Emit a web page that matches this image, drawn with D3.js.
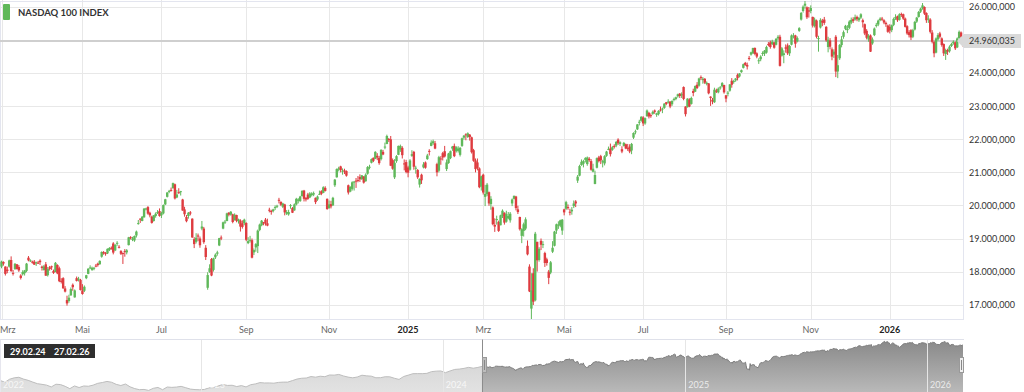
<!DOCTYPE html>
<html><head><meta charset="utf-8">
<script src="https://cdn.jsdelivr.net/npm/d3@7"></script>
<style>html,body{margin:0;padding:0;background:#fff;overflow:hidden}svg{display:block;font-family:Lato,"Open Sans",sans-serif}</style>
</head><body><svg id="chart" width="1024" height="392"></svg>
<script>
const seriesName = "NASDAQ 100 INDEX";
const monthNames = ["Jan","Feb","Mrz","Apr","Mai","Jun","Jul","Aug","Sep","Okt","Nov","Dez"];
const months = ["2024-03","2024-04","2024-05","2024-06","2024-07","2024-08","2024-09","2024-10","2024-11","2024-12",
"2025-01","2025-02","2025-03","2025-04","2025-05","2025-06","2025-07","2025-08","2025-09","2025-10","2025-11","2025-12","2026-01","2026-02"];
const holidays = ["2024-03-29","2024-05-27","2024-06-19","2024-07-04","2024-09-02","2024-11-28","2024-12-25","2025-01-01","2025-01-09","2025-01-20","2025-02-17","2025-04-18","2025-05-26","2025-06-19","2025-07-04","2025-09-01","2025-11-27","2025-12-25","2026-01-01","2026-01-19","2026-02-16"];
const rangeLabels = ["29.02.24","27.02.26"];
const lastPrice = 24960.035;
const yTicks = [17000,18000,19000,20000,21000,22000,23000,24000,25000,26000];

const opens = [
[18150,18290,18150,18060,18150,18350,17960,18080,18220,18140,17880,17920,17950,18020,18420,18320,18300,18300,18250,18270],
[18330,18150,18050,18220,17890,18130,18160,18020,17990,18200,18100,17720,17800,17490,17140,17110,17280,17600,17220,17800,17780,17750],
[17430,17420,17800,17930,18120,18050,18110,18180,18240,18220,18450,18590,18560,18550,18650,18720,18850,18640,18850,18750,18620,18560],
[18620,18580,18800,19040,18960,18940,19090,19450,19600,19530,19640,19900,19950,19780,19660,19530,19680,19800,19830],
[19700,19760,20030,20260,20420,20470,20520,20640,20240,20400,20430,20180,19880,19650,19680,19790,19600,18980,18900,19090,19000,19300],
[19300,18720,17510,17990,18380,18050,18430,18540,18790,19030,19300,19490,19530,19780,19720,19730,19560,19710,19520,19540,19460,19460],
[19470,18860,18940,18950,18580,18730,18770,19260,19400,19490,19570,19460,19870,19830,19830,19950,19960,20170,20110,19960],
[20030,19750,19730,19980,19920,19850,20030,20140,20130,20280,20450,20230,20330,20240,20310,20330,20230,20180,20340,20430,20380,20530,20200],
[19920,20040,20000,20610,20850,21090,21180,21050,21060,21040,20610,20420,20500,20710,20750,20770,20860,20800,20880,20730],
[20960,21150,21290,21440,21410,21500,21440,21400,21620,21760,21860,22010,22000,21370,20850,21340,21530,21690,21740,21270,21310],
[21150,21080,21500,21620,21140,21070,20630,20930,21150,21300,21400,21650,21800,21880,21880,21250,21050,21420,21580,21640],
[21100,21280,21430,21720,21800,21640,21650,21530,21800,22050,22150,22070,22140,22060,21670,21360,21300,21120,20570],
[20930,20260,20340,20400,20040,19940,19410,19580,19500,19400,19680,19780,19510,19610,19550,20060,20200,20270,19880,19650,19080],
[19230,19300,18780,18150,16880,17950,17130,18900,18350,18930,18800,18560,18370,18000,17970,18600,18780,19240,19420,19390,19240],
[19880,19900,19950,19810,19820,19980,20120,20750,20900,21220,21260,21380,21250,21410,21340,21020,20650,21140,21450,21490,21300],
[21270,21500,21690,21720,21680,21800,21810,21990,21860,21700,21800,21850,21740,21780,21660,22050,22230,22300,22530,22560],
[22660,22480,22700,22800,22730,22770,22870,22740,22760,22900,22920,22950,23120,23130,23140,23060,23220,23220,23300,23380,23340,23580],
[22990,22970,23200,23070,23460,23440,23650,23620,23880,23790,23830,23670,23690,23290,23190,23120,23470,23420,23540,23600,23640],
[23330,23410,23470,23770,23730,23780,23950,23900,24030,24160,24310,24250,24460,24560,24600,24760,24600,24360,24420,24590,24590],
[24620,24880,24930,24880,24930,24860,25050,25100,24530,24550,24780,24840,24600,24860,25130,25140,24960,25280,25620,25880,26040,25990,25900],
[25880,25700,25420,25590,25050,25380,25580,25620,25400,24790,24990,24720,24560,25100,24050,24450,24850,25100,25340],
[25300,25370,25530,25630,25620,25700,25600,25680,25600,25480,25280,25020,25140,24900,25150,25430,25470,25600,25650,25600,25520,25440],
[25400,25300,25460,25650,25720,25610,25790,25780,25650,25420,25240,25300,25100,25320,25560,25700,25860,25960,26000,25820],
[25620,25620,25230,24940,24620,25020,25200,25050,24880,24580,24700,24660,24820,24900,24930,24780,25060,25230,25000]
];
const highs = [
[18330,18310,18160,18150,18360,18460,18050,18260,18230,18200,17920,18040,18050,18260,18470,18370,18330,18350,18300,18320],
[18370,18180,18200,18290,18140,18170,18180,18060,18290,18220,18150,17800,17830,17560,17270,17300,17520,17640,17460,17850,17840,17780],
[17620,17580,17900,18100,18190,18150,18140,18230,18270,18340,18610,18620,18590,18700,18740,18760,18890,18830,18920,18800,18650,18580],
[18680,18680,19050,19070,19050,19090,19240,19560,19610,19680,19920,19930,19980,19810,19690,19710,19790,19860,19910],
[19810,20030,20200,20400,20470,20540,20690,20660,20470,20520,20440,20200,19960,19710,19800,19830,19610,19040,19160,19150,19060,19530],
[19350,18800,17980,18220,18410,18420,18550,18630,19020,19090,19510,19560,19780,19800,19830,19750,19760,19720,19600,19580,19550,19600],
[19490,19040,19080,19000,18700,18860,19270,19450,19560,19500,19620,19600,19930,19870,19900,20000,20020,20230,20120,20080],
[20050,19860,19870,20040,19950,20060,20230,20220,20290,20460,20470,20250,20380,20400,20400,20420,20240,20300,20450,20460,20580,20580,20210],
[20150,20140,20260,20800,21120,21170,21200,21120,21110,21060,20630,20580,20730,20740,20830,20890,20940,20920,20880,20970],
[21190,21230,21420,21450,21640,21580,21500,21700,21680,21900,22140,22040,22100,21420,21400,21520,21810,21840,21790,21390,21380],
[21200,21400,21670,21650,21200,21100,20820,20960,21310,21330,21560,21700,21970,21990,21950,21290,21500,21490,21620,21800],
[21390,21590,21660,21800,21870,21790,21790,21770,22050,22130,22180,22210,22160,22080,21710,21420,21420,21150,20900],
[20960,20620,20680,20420,20280,19970,19610,19690,19540,19720,19880,19790,19840,19800,19800,20210,20300,20290,19990,19660,19310],
[19480,19640,18940,18220,17950,18100,19200,18900,18740,19000,18920,18600,18420,18050,18320,18920,19230,19450,19520,19570,19590],
[19900,20140,20030,19900,19950,20150,20160,20920,21230,21390,21380,21460,21480,21460,21400,21260,21050,21450,21500,21530,21380],
[21520,21650,21780,21870,21800,21850,21950,22030,21940,21790,21920,21870,21860,21850,21890,22210,22290,22460,22590,22700],
[22700,22660,22900,22830,22780,22870,22900,22800,22880,22990,22960,23090,23130,23210,23150,23180,23260,23290,23380,23400,23420,23600],
[23000,23240,23240,23290,23530,23630,23730,23860,23930,23880,23850,23750,23700,23300,23250,23560,23530,23570,23610,23730,23650],
[23340,23460,23670,23850,23800,23850,23990,24000,24110,24290,24340,24320,24520,24650,24770,24780,24630,24450,24540,24660,24700],
[24830,24940,24980,25010,24950,25060,25150,25160,24790,24690,24870,24900,24850,25170,25210,25160,25110,25390,25850,26050,26180,26020,26000],
[26050,25710,25680,25620,25130,25660,25640,25700,25420,25100,25060,24780,24720,25150,24550,24880,25120,25290,25460],
[25450,25600,25680,25690,25770,25740,25700,25810,25650,25500,25330,25180,25170,25080,25380,25520,25620,25690,25700,25630,25560,25470],
[25480,25470,25680,25780,25740,25810,25830,25800,25680,25450,25300,25330,25340,25580,25700,25880,25980,26120,26020,25840],
[25750,25660,25300,24980,25080,25210,25250,25080,24900,24740,24740,24840,24920,24990,24960,25080,25290,25260,25030]
];
const lows = [
[18100,18180,17880,17950,18120,17990,17880,18050,18060,17990,17760,17880,17880,17980,18310,18290,18240,18200,18170,18230],
[18200,18030,18030,17870,17850,18030,18050,17930,17980,17920,17680,17640,17480,17370,16970,17060,17270,17420,17210,17700,17700,17430],
[17300,17380,17770,17920,18080,18020,18040,18130,18150,18210,18420,18510,18480,18530,18620,18660,18520,18620,18780,18700,18500,18230],
[18450,18520,18790,18970,18920,18900,19030,19420,19470,19520,19630,19850,19720,19640,19450,19510,19630,19740,19660],
[19620,19730,20010,20240,20370,20420,20510,20180,20220,20350,20300,19840,19660,19490,19600,19700,19020,18710,18850,18920,18720,19250],
[18840,18350,17450,17960,17860,18000,18380,18480,18770,18950,19280,19440,19520,19670,19690,19460,19540,19490,19450,19210,19300,19400],
[18920,18830,18880,18400,18500,18600,18560,19220,19370,19400,19390,19370,19790,19720,19790,19860,19920,20060,19980,19920],
[19700,19710,19690,19900,19770,19840,20000,20060,20110,20270,20120,20120,20170,20220,20270,20280,20040,20140,20320,20310,20370,20420,19870],
[19900,19910,19990,20560,20840,21030,21000,20930,20950,20870,20330,20400,20450,20450,20530,20700,20710,20770,20660,20720],
[20930,21090,21270,21310,21400,21370,21230,21360,21520,21700,21850,21920,21190,21080,20800,21290,21520,21620,21420,21060,20970],
[20850,21050,21470,21080,20960,20800,20540,20650,21120,21110,21380,21510,21790,21830,21700,20880,21000,21230,21360,21450],
[21040,21260,21400,21650,21460,21600,21600,21480,21770,21990,21970,22040,21960,21570,21320,21000,21060,20520,20450],
[20330,19980,20280,19990,19870,19400,19200,19420,19200,19410,19620,19420,19480,19580,19480,19980,20180,19850,19740,19240,18860],
[19060,19250,18490,17380,16540,16990,17100,18000,18300,18650,18710,18140,18180,17620,17920,18560,18760,19140,19290,19340,19110],
[19700,19860,19870,19700,19720,19920,19950,20680,20880,21200,21150,21300,21200,21320,21050,21000,20640,21120,21300,21250,21150],
[21210,21470,21670,21480,21650,21720,21760,21830,21800,21580,21780,21700,21650,21580,21550,22010,22150,22280,22420,22530],
[22400,22440,22680,22630,22650,22740,22770,22680,22720,22840,22790,22920,23030,23080,22940,23010,23150,23180,23260,23250,23250,23180],
[22690,22960,22970,23050,23300,23430,23520,23590,23790,23680,23670,23630,23360,23010,23060,23100,23400,23390,23500,23570,23380],
[23120,23300,23440,23560,23680,23740,23780,23870,24010,24140,24220,24110,24380,24530,24580,24540,24450,24280,24360,24520,24520],
[24590,24810,24740,24850,24740,24840,25000,24200,24500,24300,24620,24550,24520,24840,25050,24770,24930,25250,25590,25830,25950,25640,25680],
[25810,25380,25380,25050,24650,25350,25420,25460,24950,24630,24720,24390,24460,23880,23850,24400,24780,25040,25300],
[25210,25330,25480,25520,25590,25570,25550,25640,25380,25150,25020,24950,24640,24860,25120,25380,25420,25570,25580,25480,25400,25220],
[25200,25240,25420,25610,25550,25590,25700,25610,25380,25160,25080,25000,25060,25290,25520,25680,25820,25920,25760,25520],
[25520,25200,24900,24480,24600,24980,25050,24800,24520,24400,24550,24620,24790,24860,24700,24760,25030,25060,24800]
];
const closes = [
[18302,18242,17930,18018,18339,18019,17955,18234,18078,18035,17808,17986,18032,18240,18339,18339,18273,18210,18280,18254],
[18283,18109,18157,17877,18077,18080,18150,17961,18264,17946,17707,17706,17493,17395,17037,17210,17471,17527,17431,17718,17783,17441],
[17322,17541,17890,18088,18125,18114,18114,18161,18196,18323,18593,18555,18546,18688,18713,18705,18574,18808,18870,18738,18538,18536],
[18608,18642,19035,19017,19000,19075,19210,19466,19576,19659,19903,19908,19752,19700,19473,19700,19750,19800,19683],
[19769,20012,20186,20392,20440,20459,20675,20211,20331,20397,20431,19846,19733,19523,19780,19756,19032,18830,19023,19059,18796,19362],
[18890,18440,17895,18100,17880,18400,18510,18580,19010,19020,19490,19510,19760,19720,19810,19500,19720,19530,19580,19360,19350,19570],
[18960,18920,18960,18420,18650,18830,19240,19420,19540,19460,19450,19390,19840,19820,19880,19950,19990,20150,20020,20060],
[19790,19800,19800,20010,19780,20030,20200,20180,20270,20440,20200,20180,20200,20360,20360,20370,20100,20270,20350,20350,20550,20440,19890],
[20030,19970,20230,20780,21100,21120,21070,21050,21030,20900,20390,20560,20700,20720,20740,20740,20790,20910,20690,20930],
[21160,21170,21400,21350,21620,21450,21280,21680,21540,21780,22100,21990,21200,21110,21290,21490,21800,21800,21520,21250,21010],
[20990,21360,21550,21170,21140,20850,20800,20760,21240,21140,21510,21630,21900,21940,21720,21000,21460,21400,21450,21480],
[21300,21570,21640,21780,21490,21760,21720,21740,22030,22110,22120,22180,22070,21610,21350,21100,21130,20550,20880],
[20390,20350,20630,20060,20200,19430,19360,19590,19230,19700,19840,19480,19740,19680,19750,20180,20290,19920,19800,19280,19280],
[19430,19580,18520,17400,17430,17090,19145,18340,18690,18810,18830,18260,18260,17810,18280,18720,19210,19430,19420,19550,19570],
[19790,20100,19920,19790,19870,20060,20060,20870,21190,21320,21340,21430,21450,21370,21080,21110,20920,21430,21340,21360,21340],
[21490,21630,21710,21550,21760,21790,21920,21880,21910,21630,21890,21720,21720,21630,21860,22190,22240,22450,22530,22680],
[22480,22640,22870,22690,22700,22830,22830,22780,22860,22890,22930,23080,23070,23140,22990,23160,23220,23270,23360,23310,23360,23220],
[22760,23230,22990,23250,23400,23610,23550,23840,23850,23830,23710,23710,23390,23250,23140,23500,23450,23530,23570,23700,23420],
[23230,23410,23660,23650,23760,23840,23850,23990,24090,24270,24250,24200,24450,24630,24760,24580,24500,24390,24500,24610,24680],
[24790,24870,24790,24950,24770,25040,25100,24220,24750,24600,24740,24600,24820,25140,25140,24890,25060,25360,25820,26010,26100,25690,25860],
[25970,25440,25620,25100,25060,25610,25530,25520,24990,25010,24800,24500,24650,24050,24240,24850,25020,25240,25430],
[25340,25560,25610,25580,25690,25630,25670,25780,25540,25200,25070,25130,24650,25020,25350,25460,25590,25650,25640,25530,25480,25250],
[25290,25450,25640,25700,25600,25780,25760,25650,25400,25200,25150,25080,25300,25550,25680,25850,25950,26050,25800,25600],
[25650,25250,24950,24600,25050,25150,25100,24850,24600,24700,24650,24800,24880,24950,24750,25050,25250,25100,24960]
];
// weekly closes for the navigator history before the main range (Fridays from 2022-03-04)
const navStart = "2022-03-04";
const navWeekly = [13840,13300,14240,14680,14850,14290,13900,13350,12850,12640,12390,11830,12680,12560,12010,11290,12140,
11640,12130,12040,12380,12950,13210,13560,13300,12640,12270,12740,11860,11310,10970,11050,10740,11400,11670,
10960,11800,11690,11790,12010,11580,11150,11000,10940,
11040,11540,11620,12170,12580,12300,12350,11950,12250,11830,12520,12770,13180,13070,13080,13000,13250,
13340,13340,13810,14300,14550,14620,15080,14890,15180,15040,15570,15520,15750,15270,14910,14690,14940,
15500,15300,15200,14700,14720,15020,15000,14540,14180,15100,15530,15980,16000,15990,16080,16620,16770,16830,
16300,16830,17310,17420,17640,17960,17690,17940];
const navYears = ["2022","2023","2024","2025","2026"];

// ---------- build ----------
function tradingDays(ym){
  const [yy,mm] = ym.split("-").map(Number);
  const out=[];
  for(let d=1; d<=31; d++){
    const dt=new Date(Date.UTC(yy,mm-1,d));
    if(dt.getUTCMonth()!==mm-1) break;
    const wd=dt.getUTCDay();
    if(wd===0||wd===6) continue;
    if(holidays.includes(dt.toISOString().slice(0,10))) continue;
    out.push(dt);
  }
  return out;
}
const data=[];
const monthStart=[];
months.forEach((ym,i)=>{
  const days=tradingDays(ym);
  const n=Math.min(days.length, closes[i].length, opens[i].length, highs[i].length, lows[i].length);
  monthStart.push({ym, idx:data.length});
  for(let j=0;j<n;j++){
    const o=opens[i][j], c=closes[i][j];
    data.push({date:days[j], o, c, h:Math.max(highs[i][j],o,c), l:Math.min(lows[i][j],o,c)});
  }
});

const svg=d3.select("#chart");
const PR=964, PB=319;
const x=d3.scaleLinear().domain([0,data.length-1]).range([1.5,963]);
const y=d3.scaleLinear().domain([16566,26212]).range([PB,0]);
const loc=d3.formatLocale({decimal:",",thousands:".",grouping:[3],currency:["","€"]});
const fmt=loc.format(",.3f");
const UP="#5fb85a", DOWN="#de3b3f";

// grid
const g=svg.append("g");
g.selectAll("line.hg").data(yTicks).join("line")
  .attr("x1",0).attr("x2",PR).attr("y1",d=>Math.round(y(d))+0.5).attr("y2",d=>Math.round(y(d))+0.5)
  .attr("stroke","#e8e8e8");
const xt=monthStart.filter(m=>(+m.ym.slice(5)-1)%2===0);
g.selectAll("line.vg").data(xt).join("line")
  .attr("x1",d=>Math.round(x(d.idx))+0.5).attr("x2",d=>Math.round(x(d.idx))+0.5)
  .attr("y1",0).attr("y2",PB).attr("stroke","#e8e8e8");
// plot border
svg.append("rect").attr("x",0.5).attr("y",1.5).attr("width",PR-1).attr("height",PB-1)
  .attr("fill","none").attr("stroke","#e3e5ef");

// price line
const py=Math.round(y(lastPrice));
svg.append("line").attr("x1",0).attr("x2",PR).attr("y1",py).attr("y2",py)
  .attr("stroke","#cfcfcf").attr("stroke-width",2);

// candles
svg.append("clipPath").attr("id","pc").append("rect").attr("x",0).attr("y",0).attr("width",PR).attr("height",PB);
const cg=svg.append("g").attr("clip-path","url(#pc)");
const cs=cg.selectAll("g.c").data(data).join("g");
cs.append("line")
  .attr("x1",(d,i)=>x(i)).attr("x2",(d,i)=>x(i))
  .attr("y1",d=>y(d.h)).attr("y2",d=>y(d.l))
  .attr("stroke",d=>d.c>=d.o?UP:DOWN).attr("stroke-width",1);
cs.append("rect")
  .attr("x",(d,i)=>x(i)-1.2).attr("width",2.4)
  .attr("y",d=>y(Math.max(d.o,d.c)))
  .attr("height",d=>Math.max(1,Math.abs(y(d.o)-y(d.c))))
  .attr("fill",d=>d.c>=d.o?UP:DOWN);

// y labels
svg.selectAll("text.yl").data(yTicks).join("text")
  .attr("x",969).attr("y",d=>y(d)+3.3).text(d=>fmt(d))
  .attr("font-size","9px").attr("fill","#333");
// price label
svg.append("path").attr("d",`M957,${py} L964,${py-7} L1021,${py-7} L1021,${py+7} L964,${py+7} Z`).attr("fill","#d9d9d9");
svg.append("text").attr("x",969).attr("y",py+3.3).text(fmt(lastPrice)).attr("font-size","9px").attr("fill","#333");

// x labels
svg.selectAll("text.xl").data(xt).join("text")
  .attr("x",(d,i)=>i===0?0:x(d.idx)).attr("y",332.5)
  .attr("text-anchor",(d,i)=>i===0?"start":"middle")
  .attr("font-size","9px")
  .attr("font-weight",d=>d.ym.endsWith("-01")?"bold":"normal")
  .attr("fill",d=>d.ym.endsWith("-01")?"#222":"#666")
  .text(d=>{const m=+d.ym.slice(5); return m===1?d.ym.slice(0,4):monthNames[m-1];});

// legend
svg.append("rect").attr("x",3).attr("y",4).attr("width",7).attr("height",16).attr("rx",1).attr("fill",UP);
svg.append("text").attr("x",18).attr("y",16).text(seriesName).attr("font-size","9.5px").attr("font-weight","bold").attr("fill","#333");

// ---------- navigator ----------
const NT=339.5, NB=392;
const navX=d3.scaleTime().domain([new Date(Date.UTC(2023,0,1)),new Date(Date.UTC(2026,0,1))]).range([201,927]);
const navY=d3.scaleLinear().domain([10400,26212]).range([391.5,341]);
const s0=new Date(navStart+"T00:00:00Z");
const navData=navWeekly.map((v,i)=>({date:new Date(s0.getTime()+i*7*864e5),v}))
  .concat(data.map(d=>({date:d.date,v:d.c})));
const defs=svg.append("defs");
const gl=defs.append("linearGradient").attr("id","gl").attr("x1",0).attr("y1",0).attr("x2",0).attr("y2",1);
gl.append("stop").attr("offset","0%").attr("stop-color","#cfcfcf");
gl.append("stop").attr("offset","100%").attr("stop-color","#e2e2e2");
const gd=defs.append("linearGradient").attr("id","gd").attr("x1",0).attr("y1",0).attr("x2",0).attr("y2",1);
gd.append("stop").attr("offset","0%").attr("stop-color","#8a8a8a");
gd.append("stop").attr("offset","100%").attr("stop-color","#b9b9b9");
const selL=navX(new Date(Date.UTC(2024,1,29))), selR=963;
defs.append("clipPath").attr("id","cl").append("rect").attr("x",0).attr("y",NT).attr("width",selL).attr("height",60);
defs.append("clipPath").attr("id","cr").append("rect").attr("x",selL).attr("y",NT).attr("width",selR-selL).attr("height",60);
const area=d3.area().x(d=>navX(d.date)).y0(NB).y1(d=>navY(d.v));
const line=d3.line().x(d=>navX(d.date)).y(d=>navY(d.v));
svg.append("path").attr("d",area(navData)).attr("fill","url(#gl)").attr("clip-path","url(#cl)");
svg.append("path").attr("d",line(navData)).attr("fill","none").attr("stroke","#bdbdbd").attr("clip-path","url(#cl)");
svg.append("path").attr("d",area(navData)).attr("fill","url(#gd)").attr("clip-path","url(#cr)");
svg.append("path").attr("d",line(navData)).attr("fill","none").attr("stroke","#7d7d7d").attr("clip-path","url(#cr)");
// year lines and labels
const yrs=navYears.map(s=>({s,x:navX(new Date(Date.UTC(+s,0,1)))}));
svg.selectAll("line.ny").data(yrs.filter(d=>d.x>0)).join("line")
  .attr("x1",d=>Math.round(d.x)+0.5).attr("x2",d=>Math.round(d.x)+0.5).attr("y1",NT).attr("y2",NB)
  .attr("stroke","#e6e6e6");
svg.selectAll("text.ny").data(yrs).join("text")
  .attr("x",d=>Math.max(3,d.x+3)).attr("y",388).text(d=>d.s)
  .attr("font-size","9px").attr("fill","#ffffff").attr("fill-opacity",0.75);
// navigator border
svg.append("line").attr("x1",0).attr("x2",PR).attr("y1",NT).attr("y2",NT).attr("stroke","#dfe1ea");
svg.append("line").attr("x1",0.5).attr("x2",0.5).attr("y1",NT).attr("y2",NB).attr("stroke","#e6e6ee");
// selection edges + handles
svg.append("line").attr("x1",Math.round(selL)+0.5).attr("x2",Math.round(selL)+0.5).attr("y1",NT).attr("y2",NB).attr("stroke","#8c8c8c");
[[Math.round(selL),"#bdbdbd"],[selR-4,"#efefef"]].forEach(([hx,f])=>{
  svg.append("rect").attr("x",hx+0.5).attr("y",357.5).attr("width",4).attr("height",15).attr("fill",f).attr("stroke","#999");
  svg.append("line").attr("x1",hx+2.5).attr("x2",hx+2.5).attr("y1",360).attr("y2",370).attr("stroke","#888");
});
// range label box
svg.append("rect").attr("x",4).attr("y",344).attr("width",91).attr("height",14).attr("fill","#2e2e2e");
svg.append("text").attr("x",10).attr("y",354.5).text(rangeLabels[0]).attr("font-size","9px").attr("font-weight","bold").attr("fill","#fff");
svg.append("text").attr("x",54).attr("y",354.5).text(rangeLabels[1]).attr("font-size","9px").attr("font-weight","bold").attr("fill","#fff");
</script></body></html>
